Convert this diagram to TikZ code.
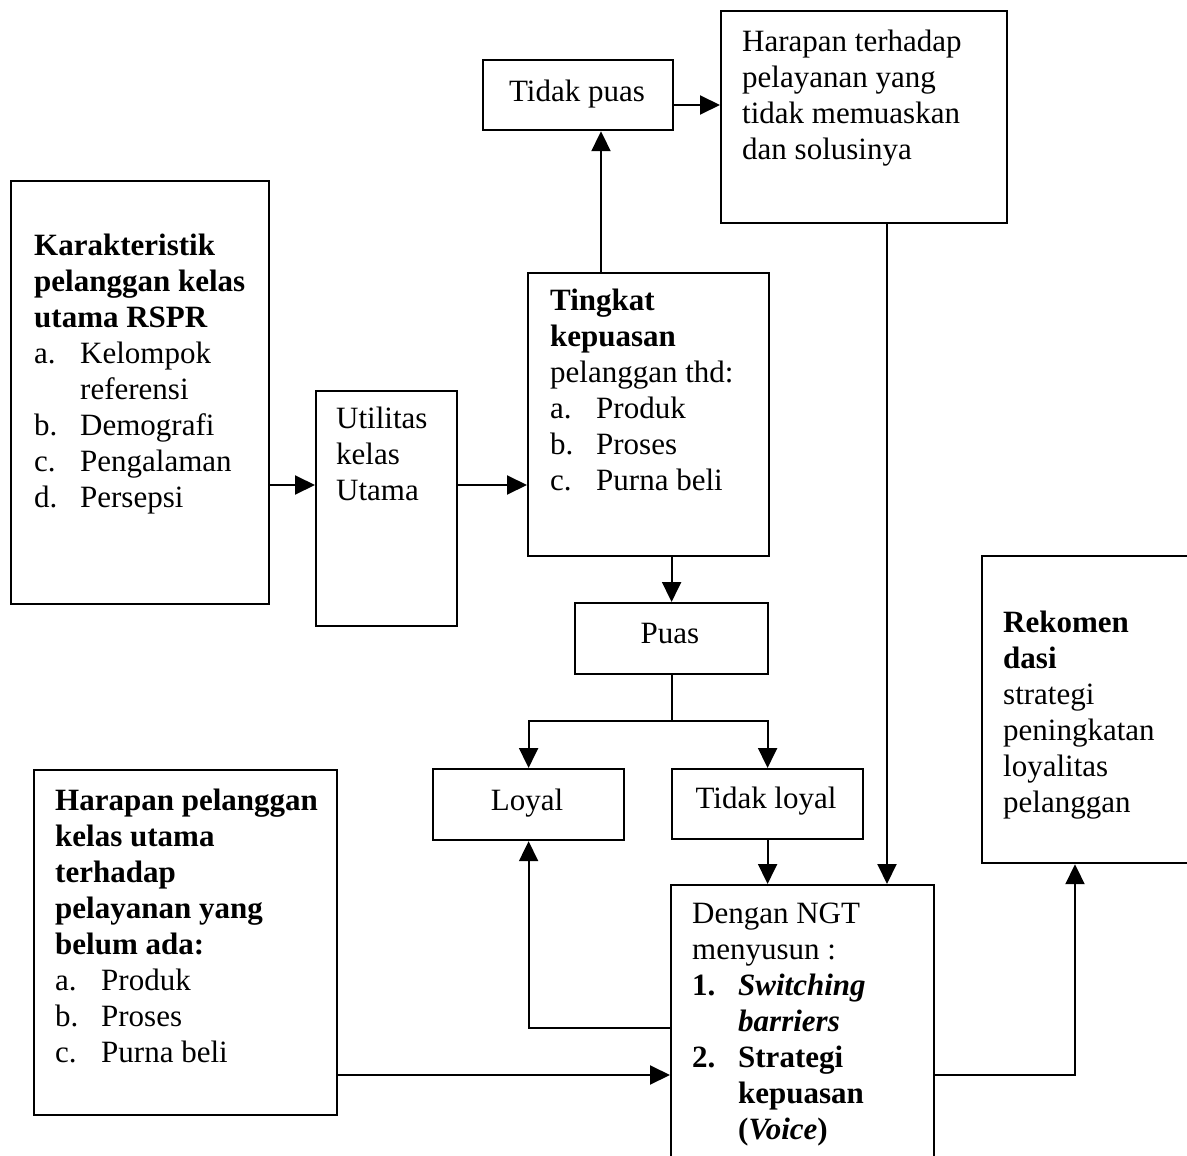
\documentclass[tikz,border=0pt]{standalone}
\usepackage{fontspec}
\setmainfont{Liberation Serif}
\usetikzlibrary{arrows.meta}

% hanging label for list items
\newcommand\litem[1]{\makebox[46pt][l]{#1}}

\begin{document}
\begin{tikzpicture}[x=1pt,y=-1pt,
  box/.style={draw, line width=2.2pt, inner sep=0pt, anchor=north west},
  txt/.style={inner sep=0pt, anchor=base west, font=\fontsize{31}{36}\selectfont},
  ctxt/.style={inner sep=0pt, anchor=base, font=\fontsize{31}{36}\selectfont},
  ln/.style={line width=2pt},
  arr/.style={line width=2pt, -{Triangle[length=20pt,width=19pt]}}]
\useasboundingbox (0,0) rectangle (1187,1156);

% boxes
\node[box, minimum width=258pt, minimum height=423pt] (kar)   at (10,180) {};
\node[box, minimum width=141pt, minimum height=235pt] (util)  at (315,390) {};
\node[box, minimum width=241pt, minimum height=283pt] (ting)  at (527,272) {};
\node[box, minimum width=190pt, minimum height=70pt]  (tp)    at (482,59) {};
\node[box, minimum width=286pt, minimum height=212pt] (hrp)   at (720,10) {};
\node[box, minimum width=193pt, minimum height=71pt]  (puas)  at (574,602) {};
\node[box, minimum width=191pt, minimum height=71pt]  (loyal) at (432,768) {};
\node[box, minimum width=191pt, minimum height=70pt]  (tl)    at (671,768) {};
\node[box, minimum width=263pt, minimum height=300pt] (ngt)   at (670,884) {};
\node[box, minimum width=303pt, minimum height=345pt] (hpl)   at (33,769) {};
\node[box, minimum width=230pt, minimum height=307pt] (rek)   at (981,555) {};

% texts
\node[txt] (karT) at (34,255) {\begin{tabular}[t]{@{}l@{}}
  \textbf{Karakteristik}\\ \textbf{pelanggan kelas}\\ \textbf{utama RSPR}\\
  \litem{a.}Kelompok\\ \litem{}referensi\\ \litem{b.}Demografi\\
  \litem{c.}Pengalaman\\ \litem{d.}Persepsi\end{tabular}};
\node[txt] (utilT) at (336,428) {\begin{tabular}[t]{@{}l@{}}
  Utilitas\\ kelas\\ Utama\end{tabular}};
\node[txt] (tingT) at (550,310) {\begin{tabular}[t]{@{}l@{}}
  \textbf{Tingkat}\\ \textbf{kepuasan}\\ pelanggan thd:\\
  \litem{a.}Produk\\ \litem{b.}Proses\\ \litem{c.}Purna beli\end{tabular}};
\node[ctxt] (tpT) at (577,102) {Tidak puas};
\node[txt] (hrpT) at (742,52) {\begin{tabular}[t]{@{}l@{}}
  Harapan terhadap\\ pelayanan yang\\ tidak memuaskan\\ dan solusinya\end{tabular}};
\node[ctxt] (puasT) at (670,643) {Puas};
\node[ctxt] (loyalT) at (527,810) {Loyal};
\node[ctxt] (tlT) at (766,808) {Tidak loyal};
\node[txt] (ngtT) at (692,923) {\begin{tabular}[t]{@{}l@{}}
  Dengan NGT\\ menyusun :\\
  \litem{\textbf{1.}}\textbf{\textit{Switching}}\\ \litem{}\textbf{\textit{barriers}}\\
  \litem{\textbf{2.}}\textbf{Strategi}\\ \litem{}\textbf{kepuasan}\\
  \litem{}\textbf{(\textit{Voice})}\end{tabular}};
\node[txt] (hplT) at (55,810) {\begin{tabular}[t]{@{}l@{}}
  \textbf{Harapan pelanggan}\\ \textbf{kelas utama}\\ \textbf{terhadap}\\
  \textbf{pelayanan yang}\\ \textbf{belum ada:}\\
  \litem{a.}Produk\\ \litem{b.}Proses\\ \litem{c.}Purna beli\end{tabular}};
\node[txt] (rekT) at (1003,632) {\begin{tabular}[t]{@{}l@{}}
  \textbf{Rekomen}\\ \textbf{dasi}\\ strategi\\ peningkatan\\ loyalitas\\ pelanggan\end{tabular}};

% connector levels
\coordinate (rowA) at (0,485);
\coordinate (rowB) at (0,105);
\coordinate (rowC) at (0,721);
\coordinate (rowD) at (0,1028);
\coordinate (rowE) at (0,1075);
\coordinate (colA) at (601,0);
\coordinate (colB) at (887,0);
\coordinate (colC) at (1075,0);

% connectors
\draw[arr] (kar.east |- rowA) -- (util.west |- rowA);
\draw[arr] (util.east |- rowA) -- (ting.west |- rowA);
\draw[arr] (ting.north -| colA) -- (tp.south -| colA);
\draw[arr] (tp.east |- rowB) -- (hrp.west |- rowB);
\draw[arr] (ting.south -| puas.north) -- (puas.north);
\draw[ln] (puas.south) -- (puas.south |- rowC);
\draw[arr] (puas.south |- rowC) -| (loyal.north);
\draw[arr] (puas.south |- rowC) -| (tl.north);
\draw[arr] (tl.south) -- (tl.south |- ngt.north);
\draw[arr] (hrp.south -| colB) -- (ngt.north -| colB);
\draw[arr] (ngt.west |- rowD) -| (loyal.south);
\draw[arr] (hpl.east |- rowE) -- (ngt.west |- rowE);
\draw[arr] (ngt.east |- rowE) -| (rek.south -| colC);
\end{tikzpicture}
\end{document}
